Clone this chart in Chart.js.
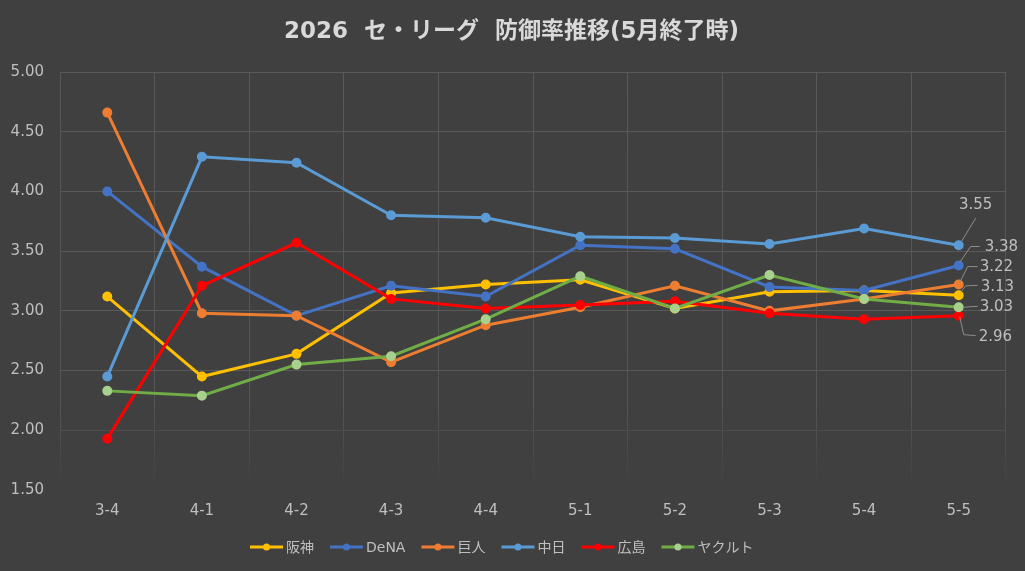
<!DOCTYPE html>
<html>
<head>
<meta charset="utf-8">
<script src="https://cdn.jsdelivr.net/npm/chart.js@4"></script>
<style>
html,body{margin:0;padding:0;background:#404040;}
#wrap{width:1025px;height:571px;position:relative;}
</style>
</head>
<body>
<div id="wrap"><canvas id="c" width="1025" height="571"></canvas></div>
<script>
// ---- data ----
const titleText = '2026  セ・リーグ  防御率推移(5月終了時)';
const categories = ['3-4','4-1','4-2','4-3','4-4','5-1','5-2','5-3','5-4','5-5'];
const teamNames = ['阪神','DeNA','巨人','中日','広島','ヤクルト'];
const hanshin   = [3.12,2.45,2.64,3.15,3.22,3.26,3.02,3.16,3.17,3.13];
const dena      = [4.00,3.37,2.96,3.21,3.12,3.55,3.52,3.20,3.17,3.38];
const kyojin    = [4.66,2.98,2.96,2.57,2.88,3.03,3.21,3.00,3.10,3.22];
const chunichi  = [2.45,4.29,4.24,3.80,3.78,3.62,3.61,3.56,3.69,3.55];
const hiroshima = [1.93,3.21,3.57,3.10,3.02,3.05,3.08,2.98,2.93,2.96];
const yakult    = [2.33,2.29,2.55,2.62,2.93,3.29,3.02,3.30,3.10,3.03];
const yMin = 1.5, yMax = 5.0, yStep = 0.5;

// ---- styles ----
const seriesValues = [hanshin, dena, kyojin, chunichi, hiroshima, yakult];
const lineColors   = ['#FFC000','#4472C4','#ED7D31','#5B9BD5','#FF0000','#70AD47'];
const markColors   = ['#FFC000','#4472C4','#ED7D31','#5B9BD5','#FF0000','#A9D18E'];
// leader-line and label placement for end labels (pixels relative to last point)
const endLabelLayout = [
  {path:[[2,-3],[7,-9.5],[19,-10]], text:[22,-8], align:'left'},
  {path:[[1,-3],[12,-19],[21,-19]], text:[26,-18], align:'left'},
  {path:[[1,-2],[9,-18],[19,-18]], text:[21,-17], align:'left'},
  {path:[[3,-4],[17,-27]], text:[17,-40], align:'center'},
  {path:[[1,1],[5,19],[17,20]], text:[20,21], align:'left'},
  {path:[[4,0],[19,-1]], text:[21,0], align:'left'}
];
const FONT = '"DejaVu Sans","Noto Sans CJK JP",sans-serif';
const textColor = '#BFBFBF';

const datasets = seriesValues.map((vals, i) => ({
  label: teamNames[i],
  data: vals,
  borderColor: lineColors[i],
  backgroundColor: markColors[i],
  pointBackgroundColor: markColors[i],
  pointBorderColor: markColors[i],
  borderWidth: 3,
  pointRadius: 3.5,
  pointHoverRadius: 3.5,
  tension: 0,
  order: seriesValues.length - i
}));

const bgPlugin = {
  id: 'bg',
  beforeDraw(chart) {
    const c = chart.ctx;
    c.save();
    c.fillStyle = '#404040';
    c.fillRect(0, 0, chart.width, chart.height);
    c.restore();
  }
};

const titlePlugin = {
  id: 'customTitle',
  afterDraw(chart) {
    const c = chart.ctx;
    c.save();
    c.font = 'bold 23px ' + FONT;
    c.fillStyle = '#D9D9D9';
    c.textAlign = 'center';
    c.textBaseline = 'middle';
    c.fillText(titleText, 511.5, 32);
    c.restore();
  }
};

const endLabelPlugin = {
  id: 'endLabels',
  afterDatasetsDraw(chart) {
    const c = chart.ctx;
    c.save();
    chart.data.datasets.forEach((ds, i) => {
      const meta = chart.getDatasetMeta(i);
      const last = meta.data[meta.data.length - 1];
      const v = ds.data[ds.data.length - 1];
      const L = endLabelLayout[i];
      c.strokeStyle = '#8C8C8C';
      c.lineWidth = 1;
      c.beginPath();
      L.path.forEach((p, k) => {
        const x = last.x + p[0], y = last.y + p[1];
        if (k === 0) c.moveTo(x, y); else c.lineTo(x, y);
      });
      c.stroke();
      c.font = '15px ' + FONT;
      c.fillStyle = textColor;
      c.textAlign = L.align;
      c.textBaseline = 'middle';
      c.fillText(v.toFixed(2), last.x + L.text[0], last.y + L.text[1]);
    });
    c.restore();
  }
};

const legendPlugin = {
  id: 'customLegend',
  afterDraw(chart) {
    const c = chart.ctx;
    c.save();
    c.font = '14px ' + FONT;
    const lineLen = 33, gapText = 3, gapItem = 16;
    const widths = chart.data.datasets.map(ds => lineLen + gapText + c.measureText(ds.label).width);
    let x = 250;
    const y = 547;
    chart.data.datasets.forEach((ds, i) => {
      c.strokeStyle = lineColors[i];
      c.lineWidth = 3;
      c.beginPath();
      c.moveTo(x, y);
      c.lineTo(x + lineLen, y);
      c.stroke();
      c.fillStyle = markColors[i];
      c.beginPath();
      c.arc(x + lineLen / 2, y, 3.5, 0, Math.PI * 2);
      c.fill();
      c.fillStyle = textColor;
      c.textAlign = 'left';
      c.textBaseline = 'middle';
      c.fillText(ds.label, x + lineLen + gapText, y + 1);
      x += widths[i] + gapItem;
    });
    c.restore();
  }
};

function vGridColor(ctx) {
  const area = ctx.chart.chartArea;
  if (!area) return '#595959';
  const g = ctx.chart.ctx.createLinearGradient(0, area.top, 0, area.bottom);
  g.addColorStop(0, '#595959');
  g.addColorStop(0.8, '#555555');
  g.addColorStop(0.97, '#434343');
  g.addColorStop(1, '#404040');
  return g;
}

new Chart(document.getElementById('c'), {
  type: 'line',
  data: { labels: categories, datasets: datasets },
  plugins: [bgPlugin, titlePlugin, endLabelPlugin, legendPlugin],
  options: {
    responsive: false,
    animation: false,
    events: [],
    layout: { padding: { top: 72, right: 19, bottom: 41, left: 0 } },
    plugins: {
      legend: { display: false },
      title: { display: false },
      tooltip: { enabled: false }
    },
    scales: {
      x: {
        offset: true,
        grid: { offset: true, color: vGridColor, lineWidth: 1, drawTicks: false },
        border: { display: false },
        ticks: { color: textColor, font: { family: FONT, size: 15 }, padding: 12, maxRotation: 0 },
        afterFit(s) { s.height = 40; }
      },
      y: {
        min: yMin, max: yMax,
        grid: {
          color: ctx => ctx.tick && ctx.tick.value <= yMin ? 'rgba(0,0,0,0)' : (ctx.tick && ctx.tick.value <= 2.0 ? '#4E4E4E' : '#595959'),
          lineWidth: 1, drawTicks: false
        },
        border: { display: false },
        ticks: {
          stepSize: yStep,
          color: textColor,
          font: { family: FONT, size: 15 },
          padding: 16,
          callback: v => Number(v).toFixed(2)
        },
        afterFit(s) { s.width = 60; }
      }
    }
  }
});
</script>
</body>
</html>
